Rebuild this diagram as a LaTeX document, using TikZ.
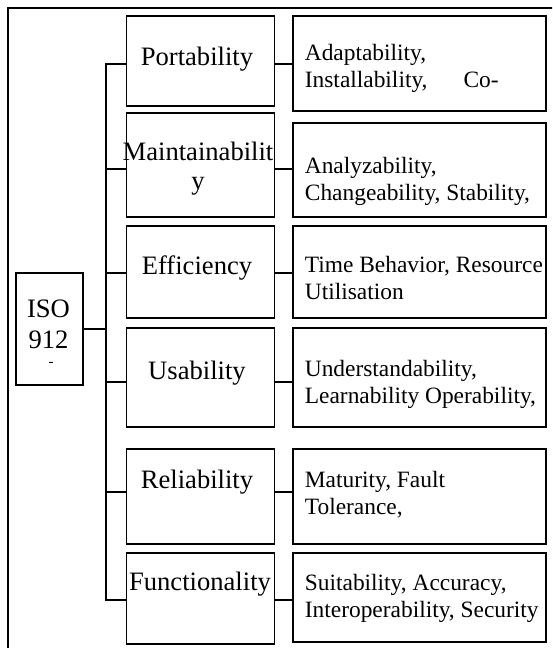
\documentclass[tikz,border=0pt]{standalone}
\usepackage{fontspec}
\setmainfont{Liberation Serif}
\begin{document}
\begin{tikzpicture}[x=0.5pt,y=-0.5pt,line width=0.9pt,
	box/.style={draw,inner sep=0pt,minimum width=#1},
	midtxt/.style={font=\fontsize{13.3}{14.5}\selectfont,align=center,anchor=base,inner sep=0pt},
	subtxt/.style={font=\fontsize{11.7}{13.5}\selectfont,align=left,anchor=base west,inner sep=0pt}]
	\clip (0,0) rectangle (552,648);
	\draw (8,8) rectangle (600,700);
	% root box
	\node[box=33.5pt,minimum height=56pt] (iso) at (49.5,329) {};
	\node[midtxt,font=\fontsize{13.3}{15.5}\selectfont] (isot) at (48.5,348) {ISO\\912};
	\node[font=\fontsize{7.5}{7.5}\selectfont] (isod) at (51,364) {-};
	% characteristics
	\node[box=74pt,minimum height=45pt] (mid1) at (200.5,61) {};
	\node[box=74pt,minimum height=52pt] (mid2) at (200.5,165) {};
	\node[box=74pt,minimum height=46pt] (mid3) at (200.5,272) {};
	\node[box=74pt,minimum height=49.5pt] (mid4) at (200.5,377.5) {};
	\node[box=74pt,minimum height=47.5pt] (mid5) at (200.5,496.5) {};
	\node[box=74pt,minimum height=45.5pt] (mid6) at (200.5,598.5) {};
	\node[midtxt] (mid1t) at (197,65) {Portability};
	\node[midtxt] (mid2t) at (198,189) {Maintainabilit\\y};
	\node[midtxt] (mid3t) at (197,274) {Efficiency};
	\node[midtxt] (mid4t) at (197,379) {Usability};
	\node[midtxt] (mid5t) at (197,488) {Reliability};
	\node[midtxt] (mid6t) at (200,590) {Functionality};
	% sub-characteristics
	\node[box=126.5pt,minimum height=47.5pt] (det1) at (419.5,63.5) {};
	\node[box=126.5pt,minimum height=47pt] (det2) at (419.5,170) {};
	\node[box=126.5pt,minimum height=46pt] (det3) at (419.5,272) {};
	\node[box=126.5pt,minimum height=49.5pt] (det4) at (419.5,377.5) {};
	\node[box=126.5pt,minimum height=47.5pt] (det5) at (419.5,496.5) {};
	\node[box=126.5pt,minimum height=44.5pt] (det6) at (419.5,597.5) {};
	\node[subtxt] (det1t) at (304,87) {Adaptability,\\Installability,\hspace{18pt}Co-};
	\node[subtxt] (det2t) at (304,200) {Analyzability,\\Changeability, Stability,};
	\node[subtxt] (det3t) at (304,299) {Time Behavior, Resource\\Utilisation};
	\node[subtxt] (det4t) at (304,403) {Understandability,\\Learnability Operability,};
	\node[subtxt] (det5t) at (304,514) {Maturity, Fault\\Tolerance,};
	\node[subtxt] (det6t) at (304,617) {Suitability, Accuracy,\\Interoperability, Security};
	% connectors
	\coordinate (tr1) at (106,64);
	\coordinate (tr2) at (106,169);
	\coordinate (tr3) at (106,273);
	\coordinate (tr4) at (106,382);
	\coordinate (tr5) at (106,492);
	\coordinate (tr6) at (106,600);
	\draw (tr1 -| mid1.west) -- (tr1) -- (tr6) -- (tr6 -| mid6.west);
	\draw (iso.east) -- (iso.east -| tr1);
	\foreach \i in {2,...,5}
		\draw (tr\i) -- (tr\i -| mid\i.west);
	\foreach \i in {1,...,6}
		\draw (tr\i -| mid\i.east) -- (tr\i -| det\i.west);
\end{tikzpicture}
\end{document}
